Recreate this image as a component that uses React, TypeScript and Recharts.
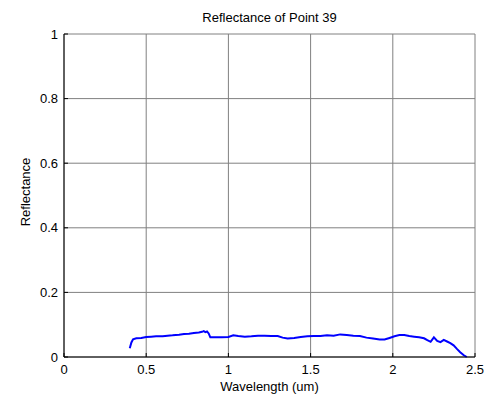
import React from "react";
import { LineChart, Line, XAxis, YAxis, CartesianGrid } from "recharts";

const wavelength = [
  0.40, 0.41, 0.42, 0.44, 0.47, 0.50, 0.53, 0.56, 0.60, 0.63,
  0.66, 0.70, 0.73, 0.76, 0.79, 0.82, 0.84, 0.85, 0.86, 0.87,
  0.88, 0.89, 0.92, 0.96, 1.00, 1.03, 1.06, 1.10, 1.14, 1.18,
  1.22, 1.26, 1.30, 1.33, 1.36, 1.40, 1.44, 1.48, 1.52, 1.56,
  1.60, 1.64, 1.68, 1.72, 1.76, 1.80, 1.84, 1.88, 1.92, 1.95,
  1.98, 2.01, 2.04, 2.07, 2.10, 2.13, 2.16, 2.19, 2.21, 2.23,
  2.25, 2.27, 2.29, 2.31, 2.33, 2.35, 2.37, 2.39, 2.41, 2.43,
  2.45,
];

const reflectance = [
  0.027, 0.045, 0.055, 0.058, 0.059, 0.062, 0.063, 0.064, 0.064, 0.066,
  0.067, 0.069, 0.071, 0.072, 0.074, 0.076, 0.078, 0.080, 0.077, 0.079,
  0.073, 0.061, 0.061, 0.061, 0.062, 0.067, 0.065, 0.063, 0.064, 0.066,
  0.066, 0.065, 0.065, 0.060, 0.057, 0.059, 0.062, 0.064, 0.065, 0.065,
  0.067, 0.066, 0.070, 0.068, 0.066, 0.065, 0.060, 0.057, 0.054, 0.054,
  0.059, 0.064, 0.068, 0.068, 0.065, 0.063, 0.061, 0.058, 0.052, 0.047,
  0.061, 0.050, 0.046, 0.053, 0.048, 0.043, 0.036, 0.025, 0.015, 0.006,
  0.000,
];

const xTicks = [0, 0.5, 1, 1.5, 2, 2.5];
const yTicks = [0, 0.2, 0.4, 0.6, 0.8, 1];

const data = wavelength.map((w, i) => ({ w, r: reflectance[i] }));

const font = "'Liberation Sans', Arial, sans-serif";
const tickStyle = { fill: "#000", fontSize: 13, fontFamily: font };

export default function App() {
  return (
    <div style={{ position: "absolute", left: 0, top: 0, width: 491, height: 401, background: "#fff", fontFamily: font, color: "#000" }}>
      <LineChart width={491} height={401} data={data} margin={{ top: 34, right: 16, bottom: 0, left: 0 }}>
        <CartesianGrid stroke="#808080" strokeWidth={1} />
        <XAxis
          dataKey="w"
          type="number"
          domain={[0, 2.5]}
          ticks={xTicks}
          height={44}
          tickSize={-4}
          tickMargin={12}
          tick={tickStyle}
          tickLine={{ stroke: "#000" }}
          axisLine={{ stroke: "#000" }}
          allowDataOverflow
        />
        <XAxis
          xAxisId="top"
          orientation="top"
          type="number"
          domain={[0, 2.5]}
          ticks={xTicks}
          height={0}
          tickSize={-4}
          tickFormatter={() => ""}
          tickLine={{ stroke: "#000" }}
          axisLine={{ stroke: "#000" }}
        />
        <YAxis
          type="number"
          domain={[0, 1]}
          ticks={yTicks}
          width={64}
          tickSize={-4}
          tickMargin={10}
          tick={tickStyle}
          tickLine={{ stroke: "#000" }}
          axisLine={{ stroke: "#000" }}
        />
        <YAxis
          yAxisId="right"
          orientation="right"
          type="number"
          domain={[0, 1]}
          ticks={yTicks}
          width={0}
          tickSize={-4}
          tickFormatter={() => ""}
          tickLine={{ stroke: "#000" }}
          axisLine={{ stroke: "#000" }}
        />
        <Line type="linear" dataKey="r" stroke="#0000ff" strokeWidth={2} dot={false} isAnimationActive={false} />
      </LineChart>
      <div style={{ position: "absolute", left: 64, width: 411, top: 10, textAlign: "center", fontSize: 13, lineHeight: "15px" }}>
        Reflectance of Point 39
      </div>
      <div style={{ position: "absolute", left: 64, width: 411, top: 379, textAlign: "center", fontSize: 13, lineHeight: "15px" }}>
        Wavelength (um)
      </div>
      <div style={{ position: "absolute", left: 25, top: 192, transform: "translate(-50%, -50%) rotate(-90deg)", fontSize: 13, lineHeight: "15px", whiteSpace: "nowrap" }}>
        Reflectance
      </div>
    </div>
  );
}
